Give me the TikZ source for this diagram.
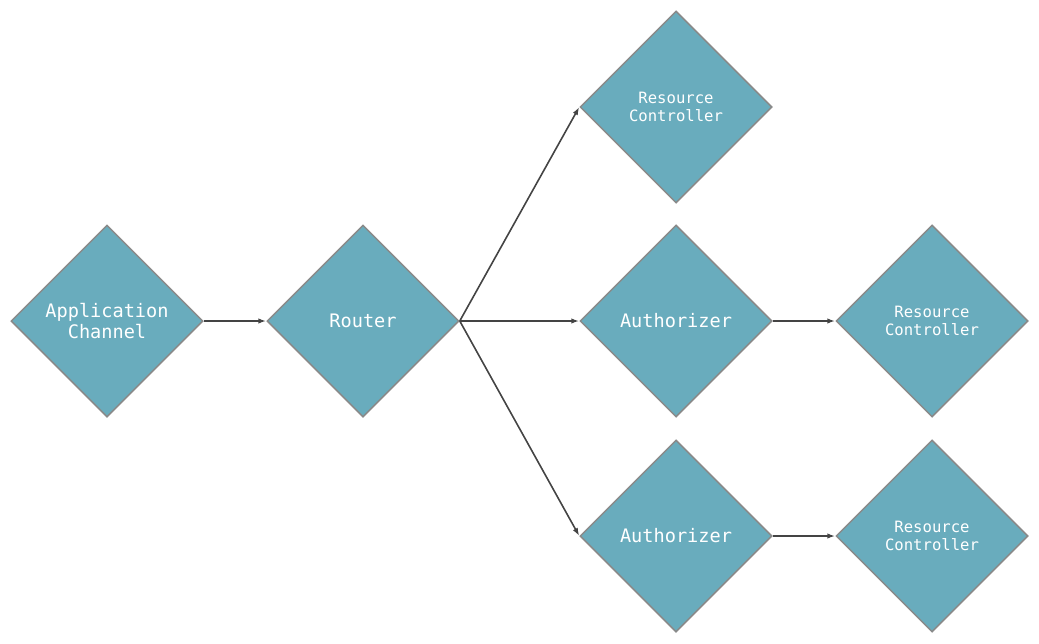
\documentclass[tikz,border=0pt]{standalone}
\usepackage{fontspec}
\setmonofont{DejaVu Sans Mono}
\usetikzlibrary{shapes.geometric,arrows.meta}
\definecolor{boxfill}{HTML}{69ACBD}
\definecolor{boxline}{HTML}{8A8A8A}
\definecolor{linkcol}{HTML}{444444}
\tikzset{stage/.style = {diamond, aspect=1, draw=boxline, line width=1.5pt, fill=boxfill, inner sep=0pt,
                         minimum width=192pt, minimum height=192pt, text=white, align=center,
                         font=\ttfamily\fontsize{18.6}{21.5}\selectfont},
         small/.style = {font=\ttfamily\fontsize{15.6}{18.5}\selectfont},
         link/.style = {draw=linkcol, line width=1.6pt, -{Latex[length=8pt,width=5.5pt]}}}

\begin{document}
\begin{tikzpicture}[x=1pt, y=-1pt]
	\useasboundingbox (0,0) rectangle (1039,643);
\node [stage] (channel) at (107,321) {Application\\Channel};
\node [stage] (router) at (363,321) {Router};
\node [stage, small] (rc1) at (676,107) {Resource\\Controller};
\node [stage] (auth1) at (676,321) {Authorizer};
\node [stage, small] (rc2) at (932,321) {Resource\\Controller};
\node [stage] (auth2) at (676,536) {Authorizer};
\node [stage, small] (rc3) at (932,536) {Resource\\Controller};
\draw [link] (channel.east) -- (router.west);
\draw [link] (router.east) -- (rc1.west);
\draw [link] (router.east) -- (auth1.west);
\draw [link] (router.east) -- (auth2.west);
\draw [link] (auth1.east) -- (rc2.west);
\draw [link] (auth2.east) -- (rc3.west);
\end{tikzpicture}
\end{document}
